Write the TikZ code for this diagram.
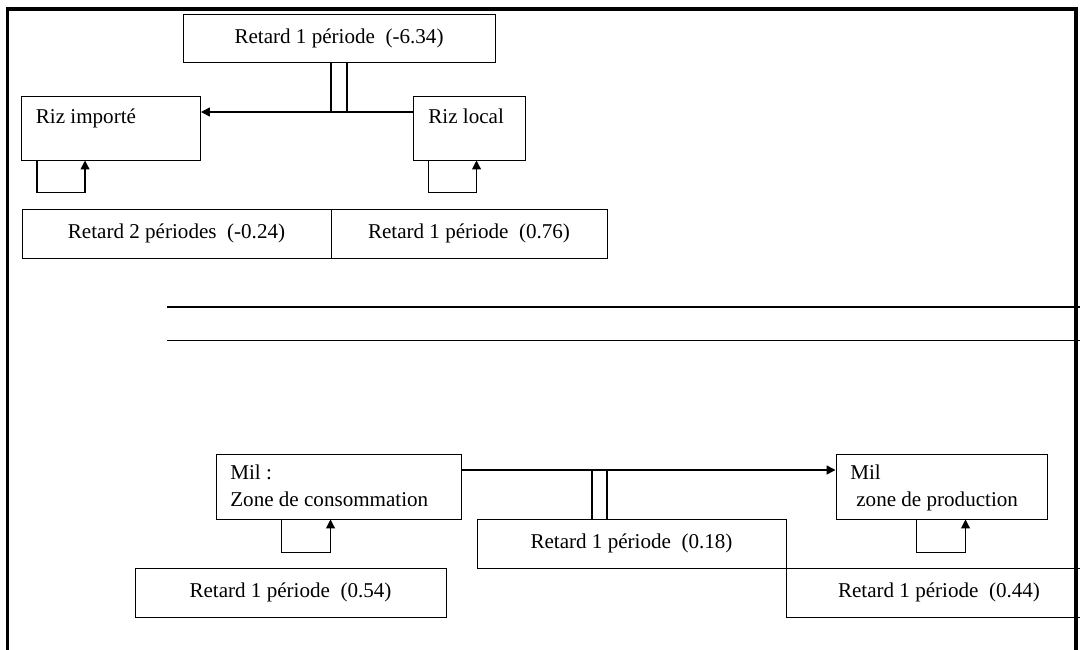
\documentclass[tikz,border=0pt]{standalone}
\usepackage{fontspec}
\setmainfont{Liberation Serif}
\usetikzlibrary{arrows.meta}
\newdimen\pxunit
\pxunit=0.02cm
\newcommand{\boxfontsize}{\fontsize{12}{15.4}\selectfont}
\tikzset{
  box/.style={draw, line width=0.55pt, inner sep=0pt, font=\boxfontsize},
  lbl/.style={inner sep=0pt, font=\boxfontsize},
  conn/.style={line width=0.9pt},
  tip/.style={-{Triangle[length=5pt,width=5pt]}},
  frame/.style={line width=1.8pt},
  rule/.style={line width=0.6pt}
}
\begin{document}
\begin{tikzpicture}[x=0.02cm,y=-0.02cm]
\clip (0,0) rectangle (1080,650);
% frame
\draw[frame] (7.5,652) -- (7.5,9) -- (1076,9) -- (1076,652);
% ---------- riz ----------
\node[box, minimum width=312\pxunit, minimum height=48\pxunit] (t634) at (339,38.5) {Retard 1 période\ \ (-6.34)};
\node[box, minimum width=179\pxunit, minimum height=64\pxunit] (ri) at (111,128) {};
\node[lbl, anchor=base west] (riT) at (35.5,123) {Riz importé};
\node[box, minimum width=112\pxunit, minimum height=64\pxunit] (rl) at (469,128) {};
\node[lbl, anchor=base west] (rlT) at (428,123) {Riz local};
\node[box, minimum width=309\pxunit, minimum height=49\pxunit] (b024) at (176.5,233.5) {Retard 2 périodes\ \ (-0.24)};
\node[box, minimum width=276\pxunit, minimum height=49\pxunit] (b076) at (469,233.5) {Retard 1 période\ \ (0.76)};
\coordinate (yriz) at (0,112);
\coordinate (ymil) at (0,470);
% connectors riz
\draw[conn, tip] (rl.west |- yriz) -- (ri.east |- yriz);
\draw[rule] ([xshift=-8\pxunit]t634.south) -- ([xshift=-8\pxunit]t634.south |- yriz);
\draw[rule] ([xshift=8\pxunit]t634.south) -- ([xshift=8\pxunit]t634.south |- yriz);
\draw[rule, tip] ([xshift=16\pxunit]ri.south west) -- ++(0,32) -| ([xshift=64\pxunit]ri.south west);
\draw[rule, tip] ([xshift=16\pxunit]rl.south west) -- ++(0,32) -| ([xshift=64\pxunit]rl.south west);
% separator lines
\draw[rule] (167,307) -- (1082,307);
\draw[rule] (167,340.5) -- (1082,340.5);
% ---------- mil ----------
\node[box, minimum width=245\pxunit, minimum height=65\pxunit] (mc) at (338.5,486.5) {};
\node[lbl, anchor=base west] (mcT1) at (230,479) {Mil :};
\node[lbl, anchor=base west] (mcT2) at (230,506) {Zone de consommation};
\node[box, minimum width=211\pxunit, minimum height=65\pxunit] (mp) at (941.5,486.5) {};
\node[lbl, anchor=base west] (mpT1) at (850,479) {Mil};
\node[lbl, anchor=base west] (mpT2) at (856,506) {zone de production};
\node[box, minimum width=309\pxunit, minimum height=49\pxunit] (m18) at (631.5,543.5) {Retard 1 période\ \ (0.18)};
\node[box, minimum width=311\pxunit, minimum height=49\pxunit] (m54) at (290.5,592.5) {Retard 1 période\ \ (0.54)};
\node[box, minimum width=306\pxunit, minimum height=49\pxunit] (m44) at (939,592.5) {Retard 1 période\ \ (0.44)};
% connectors mil
\draw[conn, tip] (mc.east |- ymil) -- (mp.west |- ymil);
\draw[rule] ([xshift=-39.5\pxunit]m18.north) -- ([xshift=-39.5\pxunit]m18.north |- ymil);
\draw[rule] ([xshift=-24.5\pxunit]m18.north) -- ([xshift=-24.5\pxunit]m18.north |- ymil);
\draw[rule, tip] ([xshift=66\pxunit]mc.south west) -- ++(0,33) -| ([xshift=115\pxunit]mc.south west);
\draw[rule, tip] ([xshift=81\pxunit]mp.south west) -- ++(0,33) -| ([xshift=130\pxunit]mp.south west);
\end{tikzpicture}
\end{document}
